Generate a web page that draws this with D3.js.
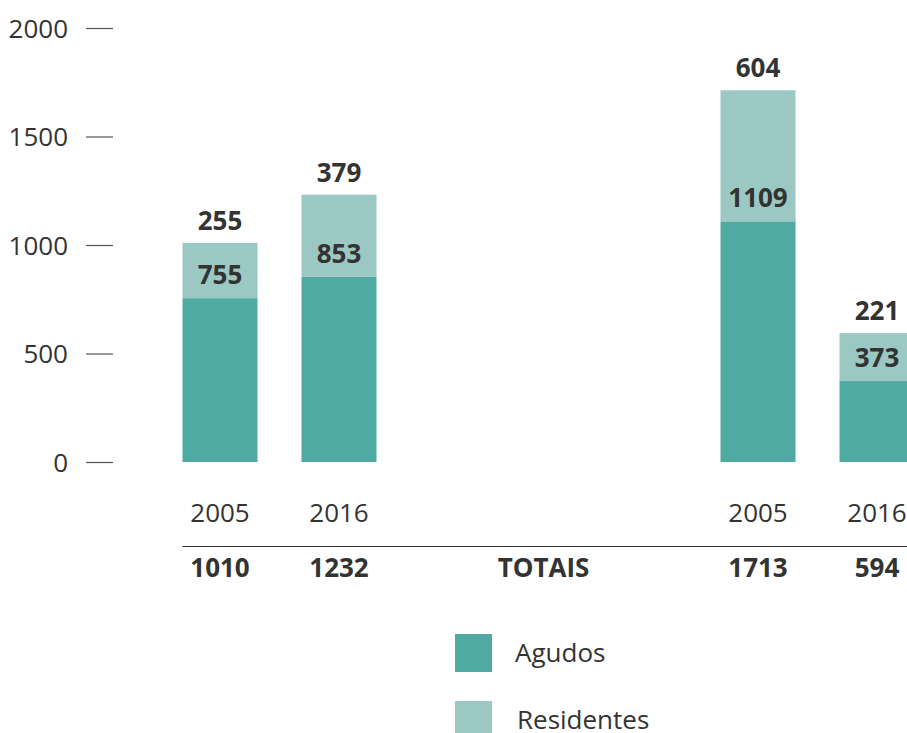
<!DOCTYPE html>
<html>
<head>
<meta charset="utf-8">
<script src="https://cdn.jsdelivr.net/npm/d3@7"></script>
<style>
  body { margin: 0; background: #fff; }
  text { font-family: "Open Sans", sans-serif; fill: #333; }
</style>
</head>
<body>
<svg id="chart" width="907" height="733"></svg>
<script>
// data
var groups = ["g1", "g2"];
var years = ["2005", "2016"];
var agudos = [[755, 853], [1109, 373]];
var residentes = [[255, 379], [604, 221]];
var yTicks = [0, 500, 1000, 1500, 2000];
var seriesNames = ["Agudos", "Residentes"];
var colors = ["#4fab a2".replace(" ", ""), "#9cc8c4"];
var totalLabel = "TOTAIS";

var svg = d3.select("#chart");

// scales
var y = d3.scaleLinear().domain([0, 2000]).range([462, 28]);
var xg = d3.scalePoint().domain(groups).range([279.5, 817.5]);
var xy = d3.scalePoint().domain(years).range([-59.5, 59.5]);
var barW = 75;

// flatten rows
var rows = [];
groups.forEach(function(g, gi) {
	years.forEach(function(yr, yi) {
		rows.push({
			group: g, year: yr,
			a: agudos[gi][yi], r: residentes[gi][yi],
			cx: xg(g) + xy(yr)
		});
	});
});

// y axis
svg.append("g")
	.attr("transform", "translate(113,0)")
	.call(d3.axisLeft(y).tickValues(yTicks).tickSize(27).tickPadding(18).tickFormat(d3.format("d")))
	.call(function(g) {
		g.select(".domain").remove();
		g.selectAll(".tick line").attr("stroke", "#555").attr("stroke-width", 1.2);
		g.selectAll(".tick text").style("font-size", "26px").attr("fill", "#333").attr("dy", "0.35em");
	});

// bars
svg.selectAll(".bar-a")
	.data(rows)
	.enter().append("rect")
	.attr("class", "bar-a")
	.attr("fill", colors[0])
	.attr("x", function(d) { return d.cx - barW / 2; })
	.attr("width", barW)
	.attr("y", function(d) { return y(d.a); })
	.attr("height", function(d) { return y(0) - y(d.a); });

svg.selectAll(".bar-r")
	.data(rows)
	.enter().append("rect")
	.attr("class", "bar-r")
	.attr("fill", colors[1])
	.attr("x", function(d) { return d.cx - barW / 2; })
	.attr("width", barW)
	.attr("y", function(d) { return y(d.a + d.r); })
	.attr("height", function(d) { return y(d.a) - y(d.a + d.r); });

// value labels
svg.selectAll(".lab-a")
	.data(rows)
	.enter().append("text")
	.attr("x", function(d) { return d.cx; })
	.attr("y", function(d) { return y(d.a) - 14; })
	.attr("text-anchor", "middle")
	.style("font-size", "26px").style("font-weight", "bold")
	.text(function(d) { return d.a; });

svg.selectAll(".lab-r")
	.data(rows)
	.enter().append("text")
	.attr("x", function(d) { return d.cx; })
	.attr("y", function(d) { return y(d.a + d.r) - 13; })
	.attr("text-anchor", "middle")
	.style("font-size", "26px").style("font-weight", "bold")
	.text(function(d) { return d.r; });

// year labels
svg.selectAll(".lab-year")
	.data(rows)
	.enter().append("text")
	.attr("x", function(d) { return d.cx; })
	.attr("y", 522)
	.attr("text-anchor", "middle")
	.style("font-size", "26px")
	.text(function(d) { return d.year; });

// separator line
svg.append("line")
	.attr("x1", rows[0].cx - barW / 2).attr("x2", 907)
	.attr("y1", 546.5).attr("y2", 546.5)
	.attr("stroke", "#333").attr("stroke-width", 1.2);

// totals
svg.selectAll(".lab-total")
	.data(rows)
	.enter().append("text")
	.attr("x", function(d) { return d.cx; })
	.attr("y", 577)
	.attr("text-anchor", "middle")
	.style("font-size", "26px").style("font-weight", "bold")
	.text(function(d) { return d.a + d.r; });

svg.append("text")
	.attr("x", 543.5).attr("y", 577)
	.attr("text-anchor", "middle")
	.style("font-size", "26px").style("font-weight", "bold")
	.text(totalLabel);

// legend
var legend = svg.selectAll(".legend")
	.data(seriesNames)
	.enter().append("g")
	.attr("class", "legend")
	.attr("transform", function(d, i) { return "translate(455," + (634 + i * 67) + ")"; });

legend.append("rect")
	.attr("width", 37).attr("height", 38)
	.attr("fill", function(d, i) { return colors[i]; });

legend.append("text")
	.attr("x", function(d, i) { return i === 0 ? 60 : 62; })
	.attr("y", 28)
	.style("font-size", "26px")
	.text(function(d) { return d; });
</script>
</body>
</html>
